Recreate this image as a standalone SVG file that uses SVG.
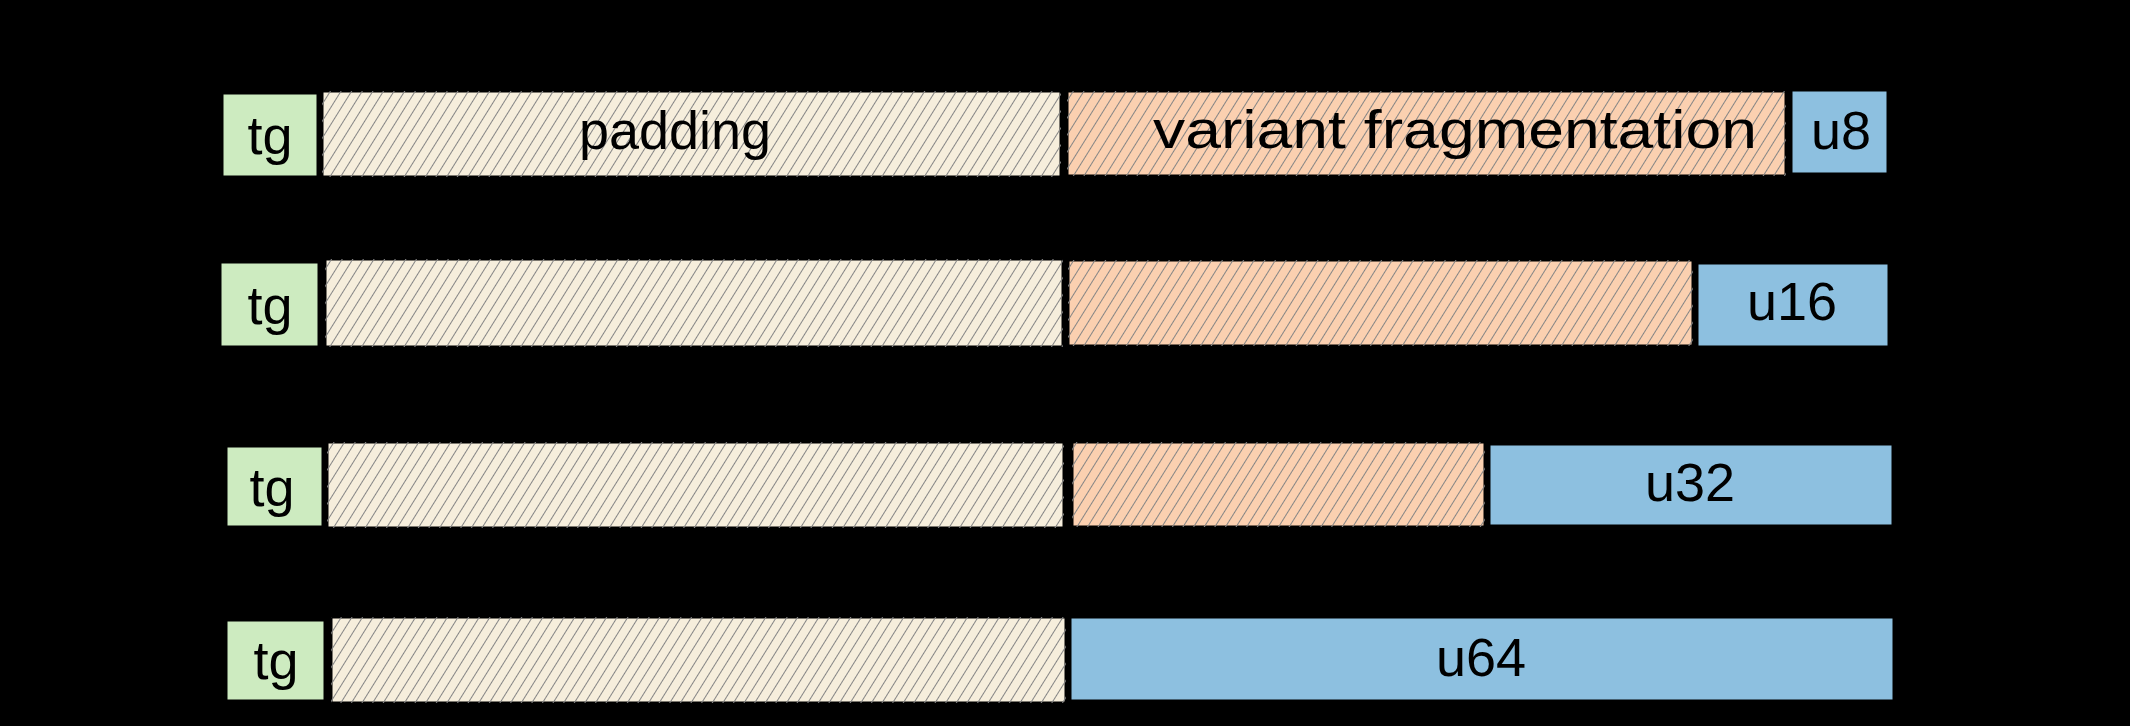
<svg xmlns="http://www.w3.org/2000/svg" width="2130" height="726" viewBox="0 0 2130 726">
  <defs>
    <pattern id="hatch" patternUnits="userSpaceOnUse" width="9" height="9" patternTransform="rotate(32)">
      <line x1="4.5" y1="-1" x2="4.5" y2="10" stroke="#858585" stroke-width="1"/>
    </pattern>
    <style>
      .box { stroke: #000; stroke-width: 3; stroke-linejoin: round; }
      .tg { fill: #cdebc0; }
      .pad { fill: #f6eedc; }
      .var { fill: #fbd0b0; }
      .blue { fill: #8dc0e0; }
      .hatch { fill: url(#hatch); stroke: none; }
      .lbl { font-family: "Liberation Sans", "DejaVu Sans", sans-serif; font-size: 54px; fill: #000; text-anchor: middle; }
    </style>
  </defs>
  <rect x="0" y="0" width="2130" height="726" fill="#000"/>

  <!-- Row 1 -->
  <g id="r1-tg">
    <rect class="box tg" x="222" y="93" width="96" height="84"/>
    <text class="lbl" x="270" y="154">tg</text>
  </g>
  <g id="r1-padding">
    <rect class="box pad" x="322" y="91" width="739" height="86"/>
    <rect class="hatch" x="322" y="91" width="739" height="86"/>
    <text class="lbl" x="675" y="149" textLength="192" lengthAdjust="spacingAndGlyphs">padding</text>
  </g>
  <g id="r1-variant">
    <rect class="box var" x="1067" y="91" width="719" height="85"/>
    <rect class="hatch" x="1067" y="91" width="719" height="85"/>
    <text class="lbl" x="1455" y="148" textLength="604" lengthAdjust="spacingAndGlyphs">variant fragmentation</text>
  </g>
  <g id="r1-u8">
    <rect class="box blue" x="1791" y="90" width="97" height="84"/>
    <text class="lbl" x="1841" y="149">u8</text>
  </g>

  <!-- Row 2 -->
  <g id="r2-tg">
    <rect class="box tg" x="220" y="262" width="99" height="85"/>
    <text class="lbl" x="270" y="324">tg</text>
  </g>
  <g id="r2-padding">
    <rect class="box pad" x="325" y="259" width="738" height="88"/>
    <rect class="hatch" x="325" y="259" width="738" height="88"/>
  </g>
  <g id="r2-variant">
    <rect class="box var" x="1068" y="260" width="625" height="86"/>
    <rect class="hatch" x="1068" y="260" width="625" height="86"/>
  </g>
  <g id="r2-u16">
    <rect class="box blue" x="1697" y="263" width="192" height="84"/>
    <text class="lbl" x="1792" y="320">u16</text>
  </g>

  <!-- Row 3 -->
  <g id="r3-tg">
    <rect class="box tg" x="226" y="446" width="97" height="81"/>
    <text class="lbl" x="272" y="506">tg</text>
  </g>
  <g id="r3-padding">
    <rect class="box pad" x="327" y="442" width="737" height="86"/>
    <rect class="hatch" x="327" y="442" width="737" height="86"/>
  </g>
  <g id="r3-variant">
    <rect class="box var" x="1072" y="442" width="413" height="85"/>
    <rect class="hatch" x="1072" y="442" width="413" height="85"/>
  </g>
  <g id="r3-u32">
    <rect class="box blue" x="1489" y="444" width="404" height="82"/>
    <text class="lbl" x="1690" y="501">u32</text>
  </g>

  <!-- Row 4 -->
  <g id="r4-tg">
    <rect class="box tg" x="226" y="620" width="99" height="81"/>
    <text class="lbl" x="276" y="679">tg</text>
  </g>
  <g id="r4-padding">
    <rect class="box pad" x="331" y="617" width="735" height="86"/>
    <rect class="hatch" x="331" y="617" width="735" height="86"/>
  </g>
  <g id="r4-u64">
    <rect class="box blue" x="1070" y="617" width="824" height="84"/>
    <text class="lbl" x="1481" y="676">u64</text>
  </g>

  <g id="connectors"/>
</svg>
